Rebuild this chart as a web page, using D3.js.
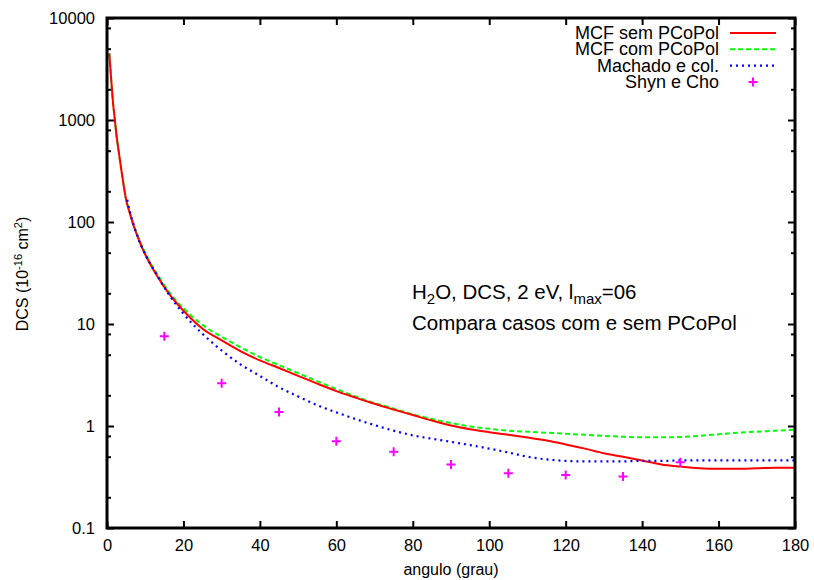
<!DOCTYPE html>
<html>
<head>
<meta charset="utf-8">
<style>
  body { margin: 0; background: #fff; }
  text { font-family: "Liberation Sans", Arial, Helvetica, sans-serif; }
</style>
</head>
<body>
<div id="chart"></div>
<script src="https://d3js.org/d3.v7.min.js"></script>
<script>
// angles (grau) shared by both MCF curves
const mcfAngles = [0.6, 1, 1.6, 2, 2.5, 3, 3.8, 5, 6, 7, 8, 9, 10, 11, 13, 16,
  20, 25, 30, 35, 40, 45, 50, 55, 60, 65, 70, 75, 80, 85, 90, 95, 100, 105, 110,
  115, 120, 125, 130, 135, 140, 145, 150, 155, 160, 165, 170, 175, 180];

const mcfSem = [4500, 2800, 1450, 1050, 700, 510, 315, 165, 121, 91, 72, 58, 48, 40.5, 30, 20.3,
  13.5, 9.0, 6.9, 5.4, 4.4, 3.7, 3.1, 2.6, 2.2, 1.9, 1.65, 1.45, 1.28, 1.13, 1.01, 0.93, 0.87, 0.82, 0.77,
  0.72, 0.66, 0.60, 0.54, 0.50, 0.46, 0.42, 0.40, 0.385, 0.38, 0.38, 0.385, 0.39, 0.39];

const mcfCom = [4500, 2800, 1450, 1050, 700, 510, 318, 167, 123, 93, 74, 60, 50, 42, 31.5, 21.2,
  14.3, 9.8, 7.5, 5.9, 4.75, 3.95, 3.3, 2.75, 2.3, 1.95, 1.68, 1.48, 1.3, 1.17, 1.07, 0.99, 0.94, 0.9, 0.88,
  0.86, 0.84, 0.82, 0.8, 0.785, 0.775, 0.775, 0.78, 0.8, 0.83, 0.86, 0.88, 0.9, 0.92];

const machadoAngles = [5.3, 6, 7, 8, 9, 10, 11, 13, 16,
  20, 25, 30, 35, 40, 45, 50, 55, 60, 65, 70, 75, 80, 85, 90, 95, 100, 105, 110,
  115, 120, 125, 130, 135, 140, 145, 150, 155, 160, 165, 170, 175, 180];
const machadoValues = [165, 126, 93, 72, 58, 48, 41, 30.5, 20,
  12.6, 8.0, 5.5, 4.0, 3.1, 2.4, 1.95, 1.6, 1.36, 1.17, 1.02, 0.9, 0.81, 0.75, 0.7, 0.65, 0.6, 0.55, 0.5,
  0.47, 0.455, 0.45, 0.45, 0.45, 0.455, 0.455, 0.46, 0.46, 0.46, 0.46, 0.46, 0.46, 0.46];

const shynAngles = [15, 30, 45, 60, 75, 90, 105, 120, 135, 150];
const shynValues = [7.6, 2.63, 1.37, 0.71, 0.56, 0.42, 0.345, 0.33, 0.32, 0.44];

const xTicks = [0, 20, 40, 60, 80, 100, 120, 140, 160, 180];
const yTicks = [0.1, 1, 10, 100, 1000, 10000];
const yMinor = [0.2, 0.5, 0.8, 2, 5, 8, 20, 50, 80, 200, 500, 800, 2000, 5000, 8000];

const legendLabels = ['MCF sem PCoPol', 'MCF com PCoPol', 'Machado e col.', 'Shyn e Cho'];

const svgWidth = 814, svgHeight = 580;
const plotLeft = 107, plotRight = 795, plotTop = 18, plotBottom = 528;

const svg = d3.select('#chart')
  .append('svg')
  .attr('width', svgWidth)
  .attr('height', svgHeight)
  .style('background-color', 'white')

const xScale = d3.scaleLinear().domain([0, 180]).range([plotLeft, plotRight])
const yScale = d3.scaleLog().domain([0.1, 10000]).range([plotBottom, plotTop])

svg.append('clipPath').attr('id', 'plotclip')
  .append('rect')
  .attr('x', plotLeft).attr('y', plotTop)
  .attr('width', plotRight - plotLeft).attr('height', plotBottom - plotTop)

// axes, ticks inward like gnuplot
const styleAxis = (g) => {
  g.select('.domain').remove()
  g.selectAll('.tick line').attr('stroke', '#000').attr('stroke-width', 2)
  g.selectAll('.tick text')
    .attr('fill', '#000')
    .style('font-family', '"Liberation Sans", Arial, sans-serif')
    .style('font-size', '16.5px')
}

svg.append('g')
  .attr('transform', `translate(0,${plotBottom})`)
  .call(d3.axisBottom(xScale).tickValues(xTicks).tickSizeInner(-7).tickSizeOuter(0).tickPadding(11.5).tickFormat(d3.format('d')))
  .call(styleAxis)

svg.append('g')
  .attr('transform', `translate(0,${plotTop})`)
  .call(d3.axisTop(xScale).tickValues(xTicks).tickSizeInner(-7).tickSizeOuter(0).tickFormat(''))
  .call(styleAxis)

svg.append('g')
  .attr('transform', `translate(${plotLeft},0)`)
  .call(d3.axisLeft(yScale).tickValues(yTicks).tickSizeInner(-7).tickSizeOuter(0).tickPadding(12).tickFormat(d3.format('~g')))
  .call(styleAxis)

svg.append('g')
  .attr('transform', `translate(${plotLeft},0)`)
  .call(d3.axisLeft(yScale).tickValues(yMinor).tickSizeInner(-4).tickSizeOuter(0).tickFormat(''))
  .call(styleAxis)

svg.append('g')
  .attr('transform', `translate(${plotRight},0)`)
  .call(d3.axisRight(yScale).tickValues(yTicks).tickSizeInner(-7).tickSizeOuter(0).tickFormat(''))
  .call(styleAxis)

svg.append('g')
  .attr('transform', `translate(${plotRight},0)`)
  .call(d3.axisRight(yScale).tickValues(yMinor).tickSizeInner(-4).tickSizeOuter(0).tickFormat(''))
  .call(styleAxis)

// curves
const line = d3.line()
  .x(d => xScale(d[0]))
  .y(d => yScale(d[1]))
  .curve(d3.curveMonotoneX)

const plot = svg.append('g').attr('clip-path', 'url(#plotclip)')

plot.append('path')
  .datum(mcfAngles.map((a, i) => [a, mcfCom[i]]))
  .attr('d', line)
  .attr('fill', 'none')
  .attr('stroke', '#00ff00')
  .attr('stroke-width', 2)
  .attr('stroke-dasharray', '5,3')

plot.append('path')
  .datum(mcfAngles.map((a, i) => [a, mcfSem[i]]))
  .attr('d', line)
  .attr('fill', 'none')
  .attr('stroke', '#ff0000')
  .attr('stroke-width', 2)

plot.append('path')
  .datum(machadoAngles.map((a, i) => [a, machadoValues[i]]))
  .attr('d', line)
  .attr('fill', 'none')
  .attr('stroke', '#0000ff')
  .attr('stroke-width', 2.2)
  .attr('stroke-dasharray', '2,4')

const crossPath = (cx, cy) => `M${cx - 4.5},${cy}H${cx + 4.5}M${cx},${cy - 4.5}V${cy + 4.5}`

svg.append('g')
  .selectAll('path')
  .data(shynAngles.map((a, i) => [a, shynValues[i]]))
  .enter()
  .append('path')
  .attr('d', d => crossPath(xScale(d[0]), yScale(d[1])))
  .attr('stroke', '#ff00ff')
  .attr('stroke-width', 2)

// frame
svg.append('rect')
  .attr('x', plotLeft).attr('y', plotTop)
  .attr('width', plotRight - plotLeft).attr('height', plotBottom - plotTop)
  .attr('fill', 'none')
  .attr('stroke', '#000')
  .attr('stroke-width', 3)

// legend
const legendStyles = [
  { color: '#ff0000', dash: null, w: 2 },
  { color: '#00ff00', dash: '5,3', w: 2 },
  { color: '#0000ff', dash: '2,4', w: 2.2 },
  { color: '#ff00ff', dash: null, w: 2 }
]
const legend = svg.append('g').attr('class', 'legend')
legendLabels.forEach((label, i) => {
  const y = 33 + i * 16.3
  legend.append('text')
    .attr('x', 719)
    .attr('y', y + 6)
    .attr('text-anchor', 'end')
    .style('font-size', '18px')
    .text(label)
  if (i < 3) {
    legend.append('line')
      .attr('x1', 730).attr('x2', 776)
      .attr('y1', y).attr('y2', y)
      .attr('stroke', legendStyles[i].color)
      .attr('stroke-width', legendStyles[i].w)
      .attr('stroke-dasharray', legendStyles[i].dash)
  } else {
    legend.append('path')
      .attr('d', crossPath(753, y))
      .attr('stroke', legendStyles[i].color)
      .attr('stroke-width', 2)
  }
})

// annotation
const note1 = svg.append('text')
  .attr('x', 412).attr('y', 299)
  .style('font-size', '20.5px')
note1.append('tspan').text('H')
note1.append('tspan').attr('dy', 5).style('font-size', '15px').text('2')
note1.append('tspan').attr('dy', -5).text('O, DCS, 2 eV, l')
note1.append('tspan').attr('dy', 5).style('font-size', '15px').text('max')
note1.append('tspan').attr('dy', -5).text('=06')

svg.append('text')
  .attr('x', 412).attr('y', 330)
  .style('font-size', '20.5px')
  .text('Compara casos com e sem PCoPol')

// axis titles
svg.append('text')
  .attr('x', (plotLeft + plotRight) / 2)
  .attr('y', 575)
  .attr('text-anchor', 'middle')
  .style('font-size', '16px')
  .text('angulo (grau)')

const ylab = svg.append('text')
  .attr('transform', 'translate(28,274) rotate(-90)')
  .attr('text-anchor', 'middle')
  .style('font-size', '16px')
ylab.append('tspan').text('DCS (10')
ylab.append('tspan').attr('dy', -6).style('font-size', '11px').text('-16')
ylab.append('tspan').attr('dy', 6).text(' cm')
ylab.append('tspan').attr('dy', -6).style('font-size', '11px').text('2')
ylab.append('tspan').attr('dy', 6).text(')')
</script>
</body>
</html>
